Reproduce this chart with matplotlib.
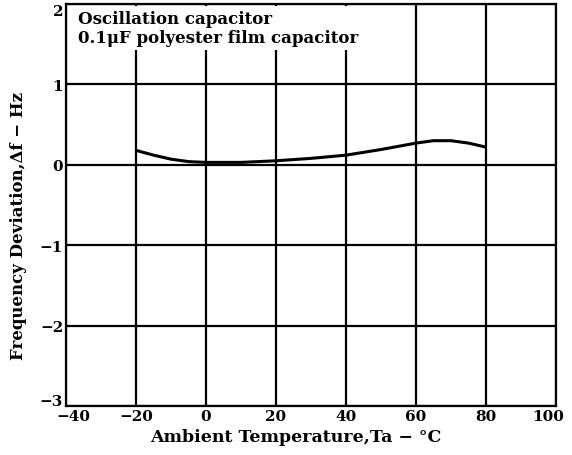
import matplotlib
matplotlib.use("Agg")
import matplotlib.pyplot as plt
import matplotlib.transforms as mtransforms

temps = [-20, -15, -10, -5, 0, 10, 20, 30, 40, 50, 60, 65, 70, 75, 80]
deviation = [0.18, 0.12, 0.07, 0.04, 0.03, 0.03, 0.05, 0.08, 0.12, 0.19, 0.27, 0.30, 0.30, 0.27, 0.22]
xticks = [-40, -20, 0, 20, 40, 60, 80, 100]
yticks = [2, 1, 0, -1, -2, -3]

plt.rcParams['font.family'] = ['DejaVu Serif', 'Liberation Serif']
plt.rcParams['font.weight'] = 'bold'

fig = plt.figure(figsize=(5.72, 4.56), dpi=100)
ax = fig.add_axes([0.1154, 0.1075, 0.8566, 0.8815])
ax.set_xlim(-40, 100)
ax.set_ylim(-3, 2)
ax.set_xticks(xticks)
ax.set_yticks(yticks)
ax.set_xticklabels([str(t).replace('-', '−') for t in xticks], fontsize=11, fontweight='bold')
ax.set_yticklabels([str(t).replace('-', '−') for t in yticks], fontsize=11, fontweight='bold')
ax.tick_params(length=0, pad=2)
ax.grid(True, color='black', linewidth=1.6)
for s in ax.spines.values():
    s.set_linewidth(1.6)
    s.set_color('black')

# nudge crowded corner labels apart / inside the canvas
ylabs = ax.get_yticklabels()
ylabs[-1].set_transform(ylabs[-1].get_transform() + mtransforms.ScaledTranslation(0, 5 / 72, fig.dpi_scale_trans))
ylabs[0].set_transform(ylabs[0].get_transform() + mtransforms.ScaledTranslation(0, -4 / 72, fig.dpi_scale_trans))
xlabs = ax.get_xticklabels()
xlabs[0].set_transform(xlabs[0].get_transform() + mtransforms.ScaledTranslation(5 / 72, 0, fig.dpi_scale_trans))
xlabs[-1].set_transform(xlabs[-1].get_transform() + mtransforms.ScaledTranslation(-6 / 72, 0, fig.dpi_scale_trans))

ax.plot(temps, deviation, color='black', linewidth=2.2, solid_capstyle='butt', zorder=3)

ax.text(-36.5, 1.92, "Oscillation capacitor\n0.1μF polyester film capacitor",
        fontsize=12, fontweight='bold', va='top', ha='left', linespacing=1.1,
        bbox=dict(facecolor='white', edgecolor='none', pad=3), zorder=4)

ax.set_xlabel("Ambient Temperature,Ta − °C", fontsize=12.5, fontweight='bold')
ax.xaxis.set_label_coords(0.47, -0.055)
ax.set_ylabel("Frequency Deviation,Δf − Hz", fontsize=12, fontweight='bold')
ax.yaxis.set_label_coords(-0.08, 0.45)

fig.savefig("out.png", dpi=100, facecolor='white')
